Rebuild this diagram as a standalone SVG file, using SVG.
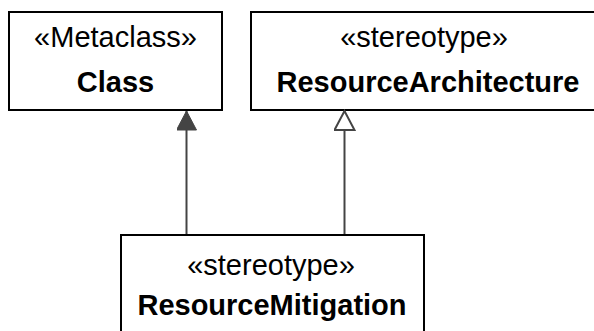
<svg xmlns="http://www.w3.org/2000/svg" width="594" height="331" viewBox="0 0 594 331">
<style>
.box{fill:#fff;stroke:#000;stroke-width:2}
.st{font-family:"Liberation Sans",Arial,sans-serif;font-size:29px;text-anchor:middle;fill:#000}
.nm{font-family:"Liberation Sans",Arial,sans-serif;font-size:29px;font-weight:bold;text-anchor:middle;fill:#000}
.edge{stroke:#444;stroke-width:2;fill:none}
</style>
<defs>
<marker id="filled" markerWidth="22" markerHeight="20" refX="20" refY="10" orient="auto" markerUnits="userSpaceOnUse">
<path d="M1,0 L20,10 L1,20 Z" fill="#444" stroke="#444" stroke-width="1"/>
</marker>
<marker id="hollow" markerWidth="22" markerHeight="22" refX="20" refY="11" orient="auto" markerUnits="userSpaceOnUse">
<path d="M1,1 L20,11 L1,21 Z" fill="#fff" stroke="#444" stroke-width="2"/>
</marker>
</defs>
<rect width="594" height="331" fill="#fff"/>
<g id="class">
<rect class="box" x="9" y="12" width="213" height="98"/>
<text class="st" x="115.5" y="47">«Metaclass»</text>
<text class="nm" x="115.5" y="92">Class</text>
</g>
<g id="resourceArchitecture">
<rect class="box" x="251" y="12" width="356" height="98"/>
<text class="st" x="424" y="47">«stereotype»</text>
<text class="nm" x="428" y="92">ResourceArchitecture</text>
</g>
<g id="connectors">
<line class="edge" x1="186.5" y1="235" x2="186.5" y2="111" marker-end="url(#filled)"/>
<line class="edge" x1="344.5" y1="235" x2="344.5" y2="111" marker-end="url(#hollow)"/>
</g>
<g id="resourceMitigation">
<rect class="box" x="121" y="235" width="303" height="110"/>
<text class="st" x="271" y="275">«stereotype»</text>
<text class="nm" x="272" y="315">ResourceMitigation</text>
</g>
</svg>
